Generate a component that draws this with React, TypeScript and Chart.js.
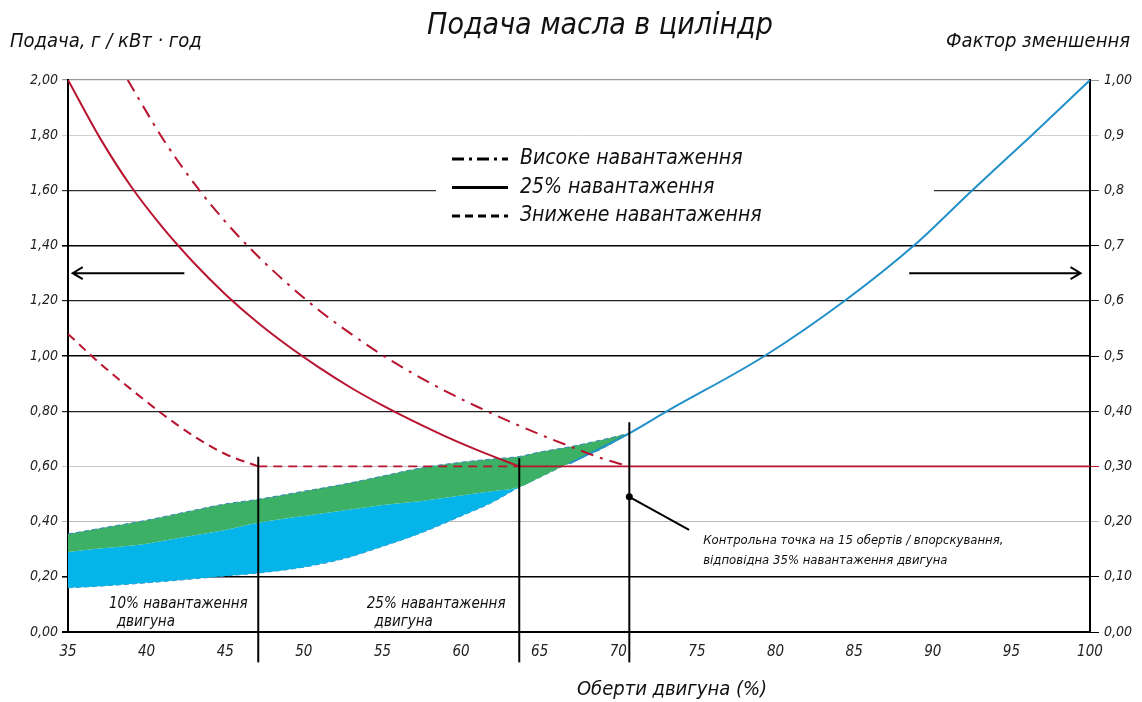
import React, { useEffect, useRef } from "react";
import { Chart, registerables } from "chart.js";

Chart.register(...registerables);

const FONT = "'Liberation Sans Narrow', 'DejaVu Sans Condensed', 'Liberation Sans', sans-serif";

// ---------- data ----------
const xMin = 35;
const xMax = 100;
const xTickLabels = ["35", "40", "45", "50", "55", "60", "65", "70", "75", "80", "85", "90", "95", "100"];
const leftTickLabels = ["0,00", "0,20", "0,40", "0,60", "0,80", "1,00", "1,20", "1,40", "1,60", "1,80", "2,00"];
const rightTickLabels = ["0,00", "0,10", "0,20", "0,30", "0,40", "0,5", "0,6", "0,7", "0,8", "0,9", "1,00"];

// 25% load (solid)
const solidX = [35, 37, 39, 41, 43, 45, 47, 49, 51, 53, 55, 57, 59, 61, 63.7];
const solidY = [2.0, 1.793, 1.615, 1.467, 1.338, 1.224, 1.124, 1.036, 0.957, 0.885, 0.821, 0.763, 0.709, 0.66, 0.6];
// limit line at 0.60 (solid)
const limitX = [63.7, 100];
const limitY = [0.6, 0.6];
// high load (dash-dot)
const highX = [38.8, 41, 43, 45, 47, 49, 51, 53, 55, 57, 59, 61, 63, 65, 67, 69, 70.7];
const highY = [2.0, 1.79, 1.627, 1.487, 1.366, 1.26, 1.164, 1.08, 1.003, 0.935, 0.873, 0.817, 0.765, 0.716, 0.671, 0.628, 0.6];
// reduced load (dashed)
const lowLoadX = [35, 37, 39, 41, 43, 45, 47.1];
const lowLoadY = [1.08, 0.975, 0.88, 0.79, 0.71, 0.645, 0.6];
const lowFlatX = [47.1, 63.7];
const lowFlatY = [0.6, 0.6];
// reduction factor (right axis)
const factorX = [66.9, 70.7, 73.1, 79.3, 84.4, 88.8, 92.5, 96.3, 100];
const factorY = [0.305, 0.36, 0.4, 0.5, 0.6, 0.7, 0.8, 0.9, 1.0];
// shaded band
const bandX = [35, 37.5, 40, 42.5, 45, 47, 50, 52.5, 55, 57.5, 60, 62, 63.7, 65, 67, 69, 70.7];
const bandTop = [0.355, 0.38, 0.405, 0.435, 0.464, 0.48, 0.51, 0.535, 0.565, 0.595, 0.615, 0.627, 0.636, 0.652, 0.672, 0.697, 0.72];
const bandMid = [0.29, 0.305, 0.32, 0.345, 0.37, 0.395, 0.42, 0.44, 0.46, 0.475, 0.495, 0.51, 0.525, 0.56, 0.615, 0.665, 0.72];
const bandLow = [0.16, 0.168, 0.178, 0.19, 0.203, 0.213, 0.235, 0.265, 0.31, 0.36, 0.42, 0.47, 0.525, 0.56, 0.615, 0.665, 0.72];

// vertical markers
const vLineX = [47.1, 63.7, 70.7];
const vLineTop = [0.635, 0.63, 0.76];
const vLineBottom = -0.11;

const leftGridColors = ["#000", "#000", "#b8b8b8", "#c8c8c8", "#222", "#000", "#222", "#000", "#333", "#d0d0d0", "#9a9a9a"];
const leftGridWidths = [2, 1.6, 1, 1, 1.2, 1.5, 1.2, 1.6, 1.2, 1, 1.2];
const rightTickColors = ["#000", "#000", "#bbb", "#c0142c", "#222", "#000", "#222", "#000", "#333", "#ccc", "#999"];

const RED = "#b8132f";
const BLUE = "#2190c8";
const GREEN = "#3cb064";
const CYAN = "#05b4e8";

const pts = (xs: number[], ys: number[]) => xs.map((x, i) => ({ x, y: ys[i] }));

const legendItems = [
  { label: "Високе навантаження", dash: [12, 5, 3, 5] },
  { label: "25% навантаження", dash: [] as number[] },
  { label: "Знижене навантаження", dash: [8, 5] },
];

const drawArrow = (ctx: CanvasRenderingContext2D, x1: number, y: number, x2: number) => {
  const dir = x2 > x1 ? 1 : -1;
  ctx.beginPath();
  ctx.moveTo(x1, y);
  ctx.lineTo(x2, y);
  ctx.moveTo(x2 - dir * 10, y - 6);
  ctx.lineTo(x2, y);
  ctx.lineTo(x2 - dir * 10, y + 6);
  ctx.stroke();
};

const overlay = {
  id: "overlay",
  beforeDatasetsDraw(chart: any) {
    const { ctx } = chart;
    ctx.save();
    ctx.fillStyle = "#fff";
    ctx.fillRect(436, 146, 498, 88);
    ctx.restore();
  },
  afterDatasetsDraw(chart: any) {
    const { ctx } = chart;
    const xs = chart.scales.x;
    const ys = chart.scales.y;
    const px = (v: number) => xs.getPixelForValue(v);
    const py = (v: number) => ys.getPixelForValue(v);
    ctx.save();
    ctx.strokeStyle = "#000";
    ctx.lineWidth = 2;
    vLineX.forEach((x, i) => {
      ctx.beginPath();
      ctx.moveTo(px(x), py(vLineTop[i]));
      ctx.lineTo(px(x), py(vLineBottom));
      ctx.stroke();
    });
    drawArrow(ctx, px(42.4), py(1.3), px(35.3));
    drawArrow(ctx, px(88.5), py(1.3), px(99.4));
    ctx.beginPath();
    ctx.moveTo(px(70.7), py(0.49));
    ctx.lineTo(px(74.5), py(0.37));
    ctx.stroke();
    ctx.beginPath();
    ctx.arc(px(70.7), py(0.49), 3.5, 0, Math.PI * 2);
    ctx.fillStyle = "#000";
    ctx.fill();
    ctx.fillStyle = "#111";
    ctx.textBaseline = "middle";
    ctx.textAlign = "left";
    ctx.font = `italic 13px ${FONT}`;
    ctx.fillText("Контрольна точка на 15 обертів / впорскування,", px(75.4), py(0.33));
    ctx.fillText("відповідна 35% навантаження двигуна", px(75.4), py(0.26));
    ctx.font = `italic 15px ${FONT}`;
    ctx.fillText("10% навантаження", px(37.6), py(0.1));
    ctx.fillText("двигуна", px(38.1), py(0.035));
    ctx.fillText("25% навантаження", px(54.0), py(0.1));
    ctx.fillText("двигуна", px(54.5), py(0.035));
    ctx.font = `italic 21px ${FONT}`;
    legendItems.forEach((it, i) => {
      const y = 159 + i * 28.5;
      ctx.strokeStyle = "#000";
      ctx.lineWidth = 3;
      ctx.setLineDash(it.dash);
      ctx.beginPath();
      ctx.moveTo(452, y);
      ctx.lineTo(508, y);
      ctx.stroke();
      ctx.setLineDash([]);
      ctx.fillStyle = "#111";
      ctx.fillText(it.label, 520, y);
    });
    ctx.restore();
  },
  afterDraw(chart: any) {
    const { ctx } = chart;
    ctx.save();
    ctx.fillStyle = "#111";
    ctx.textBaseline = "middle";
    ctx.font = `italic 30px ${FONT}`;
    ctx.textAlign = "center";
    ctx.fillText("Подача масла в циліндр", 600, 26);
    ctx.font = `italic 20px ${FONT}`;
    ctx.fillText("Оберти двигуна (%)", 672, 690);
    ctx.textAlign = "left";
    ctx.fillText("Подача, г / кВт · год", 10, 42);
    ctx.textAlign = "right";
    ctx.fillText("Фактор зменшення", 1130, 42);
    ctx.restore();
  },
};

export default function App() {
  const ref = useRef<HTMLCanvasElement | null>(null);
  useEffect(() => {
    if (!ref.current) return;
    const line = (data: any, color: string, extra: any = {}) => ({
      type: "line",
      data,
      borderColor: color,
      borderWidth: 2,
      pointRadius: 0,
      fill: false,
      cubicInterpolationMode: "monotone",
      ...extra,
    });
    const chart = new Chart(ref.current, {
      type: "line",
      data: {
        datasets: [
          line(pts(solidX, solidY), RED),
          line(pts(limitX, limitY), RED, { borderWidth: 1.6 }),
          line(pts(highX, highY), RED, { borderDash: [13, 7, 3, 7] }),
          line(pts(lowLoadX, lowLoadY), RED, { borderDash: [9, 6] }),
          line(pts(lowFlatX, lowFlatY), RED, { borderDash: [9, 6], borderWidth: 1.6 }),
          line(pts(factorX, factorY), BLUE, { yAxisID: "y1" }),
          line(pts(bandX, bandTop), "#3a86b8", { borderWidth: 1, borderDash: [5, 3], fill: "+1", backgroundColor: GREEN }),
          line(pts(bandX, bandMid), "rgba(0,0,0,0)", { borderWidth: 0, fill: "+1", backgroundColor: CYAN }),
          line(pts(bandX, bandLow), "#3a86b8", { borderWidth: 1, borderDash: [5, 3] }),
        ] as any,
      },
      options: {
        responsive: false,
        animation: false,
        devicePixelRatio: 1,
        layout: { padding: { top: 80, bottom: 30, left: 0, right: 0 } },
        plugins: { legend: { display: false }, tooltip: { enabled: false } },
        scales: {
          x: {
            type: "linear",
            min: xMin,
            max: xMax,
            afterFit: (s: any) => { s.height = 40; },
            afterBuildTicks: (s: any) => { s.ticks = xTickLabels.map((t) => ({ value: Number(t) })); },
            grid: { drawOnChartArea: false, drawTicks: false },
            border: { color: "#000", width: 2 },
            ticks: {
              padding: 11,
              color: "#222",
              font: { family: FONT, size: 15, style: "italic" },
              callback: (_v: any, i: number) => xTickLabels[i],
            },
          },
          y: {
            position: "left",
            min: 0,
            max: 2,
            afterFit: (s: any) => { s.width = 68; },
            afterBuildTicks: (s: any) => { s.ticks = leftTickLabels.map((_, i) => ({ value: i * 0.2 })); },
            grid: {
              color: (c: any) => leftGridColors[c.index] ?? "#ccc",
              lineWidth: (c: any) => leftGridWidths[c.index] ?? 1,
              tickLength: 6,
            },
            border: { color: "#000", width: 2 },
            ticks: {
              padding: 4,
              color: "#222",
              font: { family: FONT, size: 14, style: "italic" },
              callback: (_v: any, i: number) => leftTickLabels[i],
            },
          },
          y1: {
            position: "right",
            min: 0,
            max: 1,
            afterFit: (s: any) => { s.width = 52; },
            afterBuildTicks: (s: any) => { s.ticks = rightTickLabels.map((_, i) => ({ value: i * 0.1 })); },
            grid: {
              drawOnChartArea: false,
              color: (c: any) => rightTickColors[c.index] ?? "#ccc",
              tickLength: 9,
            },
            border: { color: "#000", width: 2 },
            ticks: {
              padding: 5,
              color: "#222",
              font: { family: FONT, size: 14, style: "italic" },
              callback: (_v: any, i: number) => rightTickLabels[i],
            },
          },
        },
      } as any,
      plugins: [overlay as any],
    });
    return () => chart.destroy();
  }, []);
  return (
    <div style={{ position: "fixed", left: 0, top: 0, width: 1142, height: 702, background: "#fff" }}>
      <canvas ref={ref} width={1142} height={702} style={{ display: "block" }} />
    </div>
  );
}
